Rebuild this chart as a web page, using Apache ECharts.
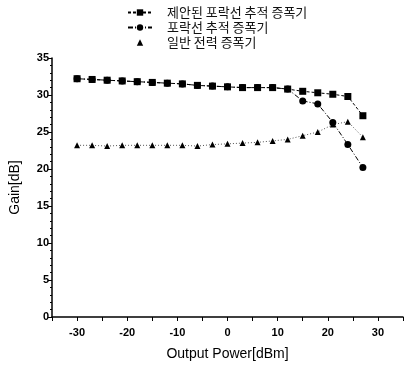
<!DOCTYPE html>
<html>
<head>
<meta charset="utf-8">
<title></title>
<script type="text/javascript" src="https://cdn.jsdelivr.net/npm/echarts@6/dist/echarts.min.js"></script>
<style>body{margin:0;background:#fff;}</style>
</head>
<body>
<div id="gain" style="width:406px;height:366px;"></div>
<script type="text/javascript">
var power = [-30, -27, -24, -21, -18, -15, -12, -9, -6, -3, 0, 3, 6, 9, 12, 15, 18, 21, 24, 27];
var proposedET = [32.2, 32.1, 32.0, 31.9, 31.8, 31.7, 31.6, 31.5, 31.3, 31.2, 31.1, 31.0, 31.0, 31.0, 30.8, 30.5, 30.3, 30.1, 29.8, 27.2];
var envelopeET = [32.2, 32.1, 32.0, 31.9, 31.8, 31.7, 31.6, 31.5, 31.3, 31.2, 31.1, 31.0, 31.0, 31.0, 30.8, 29.2, 28.8, 26.3, 23.3, 20.2];
var normalPA = [23.2, 23.2, 23.1, 23.2, 23.2, 23.2, 23.2, 23.2, 23.1, 23.3, 23.4, 23.5, 23.6, 23.8, 24.0, 24.5, 25.0, 26.0, 26.4, 24.3];
var names = ['제안된 포락선 추적 증폭기', '포락선 추적 증폭기', '일반 전력 증폭기'];

function pairs(ys) {
	return power.map(function (x, i) { return [x, ys[i]]; });
}

var myChart = echarts.init(document.getElementById('gain'));
var axisFont = { color: '#000', fontFamily: 'Liberation Sans', fontSize: 11, fontWeight: 'bold' };

option = {
	animation: false,
	backgroundColor: '#fff',
	legend: {
		orient: 'vertical',
		left: 122,
		top: 1,
		itemGap: 2,
		itemWidth: 24,
		itemHeight: 8,
		textStyle: { color: '#111', fontFamily: 'Noto Sans CJK KR', fontSize: 13, padding: [0, 0, 0, 10] },
		data: [
			{ name: names[0] },
			{ name: names[1] },
			{ name: names[2], lineStyle: { opacity: 0 } }
		]
	},
	grid: { left: 48, right: 0, top: 58, bottom: 49 },
	xAxis: {
		type: 'value',
		min: -35,
		max: 35,
		interval: 5,
		name: 'Output Power[dBm]',
		nameLocation: 'middle',
		nameGap: 30,
		nameTextStyle: { color: '#000', fontFamily: 'Liberation Sans', fontSize: 14 },
		axisLine: { onZero: false, lineStyle: { color: '#000', width: 1.5 } },
		axisTick: { lineStyle: { color: '#000' }, length: 4 },
		axisLabel: Object.assign({
			margin: 10,
			formatter: function (v) { return (v % 10 === 0) ? String(v) : ''; }
		}, axisFont),
		splitLine: { show: false }
	},
	yAxis: {
		type: 'value',
		min: 0,
		max: 35,
		interval: 5,
		name: 'Gain[dB]',
		nameLocation: 'middle',
		nameGap: 30,
		nameTextStyle: { color: '#000', fontFamily: 'Liberation Sans', fontSize: 14 },
		axisLine: { show: true, onZero: false, lineStyle: { color: '#000', width: 1.5 } },
		axisTick: { show: true, lineStyle: { color: '#000' }, length: 4 },
		minorTick: { show: true, splitNumber: 5, length: 2, lineStyle: { color: '#000' } },
		axisLabel: Object.assign({ margin: 3 }, axisFont),
		splitLine: { show: false }
	},
	series: [
		{
			name: names[0],
			type: 'line',
			data: pairs(proposedET),
			symbol: 'rect',
			symbolSize: 7,
			itemStyle: { color: '#000' },
			lineStyle: { color: '#000', width: 1, type: [3, 2] },
			z: 3
		},
		{
			name: names[1],
			type: 'line',
			data: pairs(envelopeET),
			symbol: 'circle',
			symbolSize: 7,
			itemStyle: { color: '#000' },
			lineStyle: { color: '#000', width: 1, type: [5, 2, 1, 2] },
			z: 2
		},
		{
			name: names[2],
			type: 'line',
			data: pairs(normalPA),
			symbol: 'triangle',
			symbolSize: 6,
			itemStyle: { color: '#000' },
			lineStyle: { color: '#555', width: 1, type: [1, 2] },
			z: 1
		}
	]
};

myChart.setOption(option);
</script>
</body>
</html>
